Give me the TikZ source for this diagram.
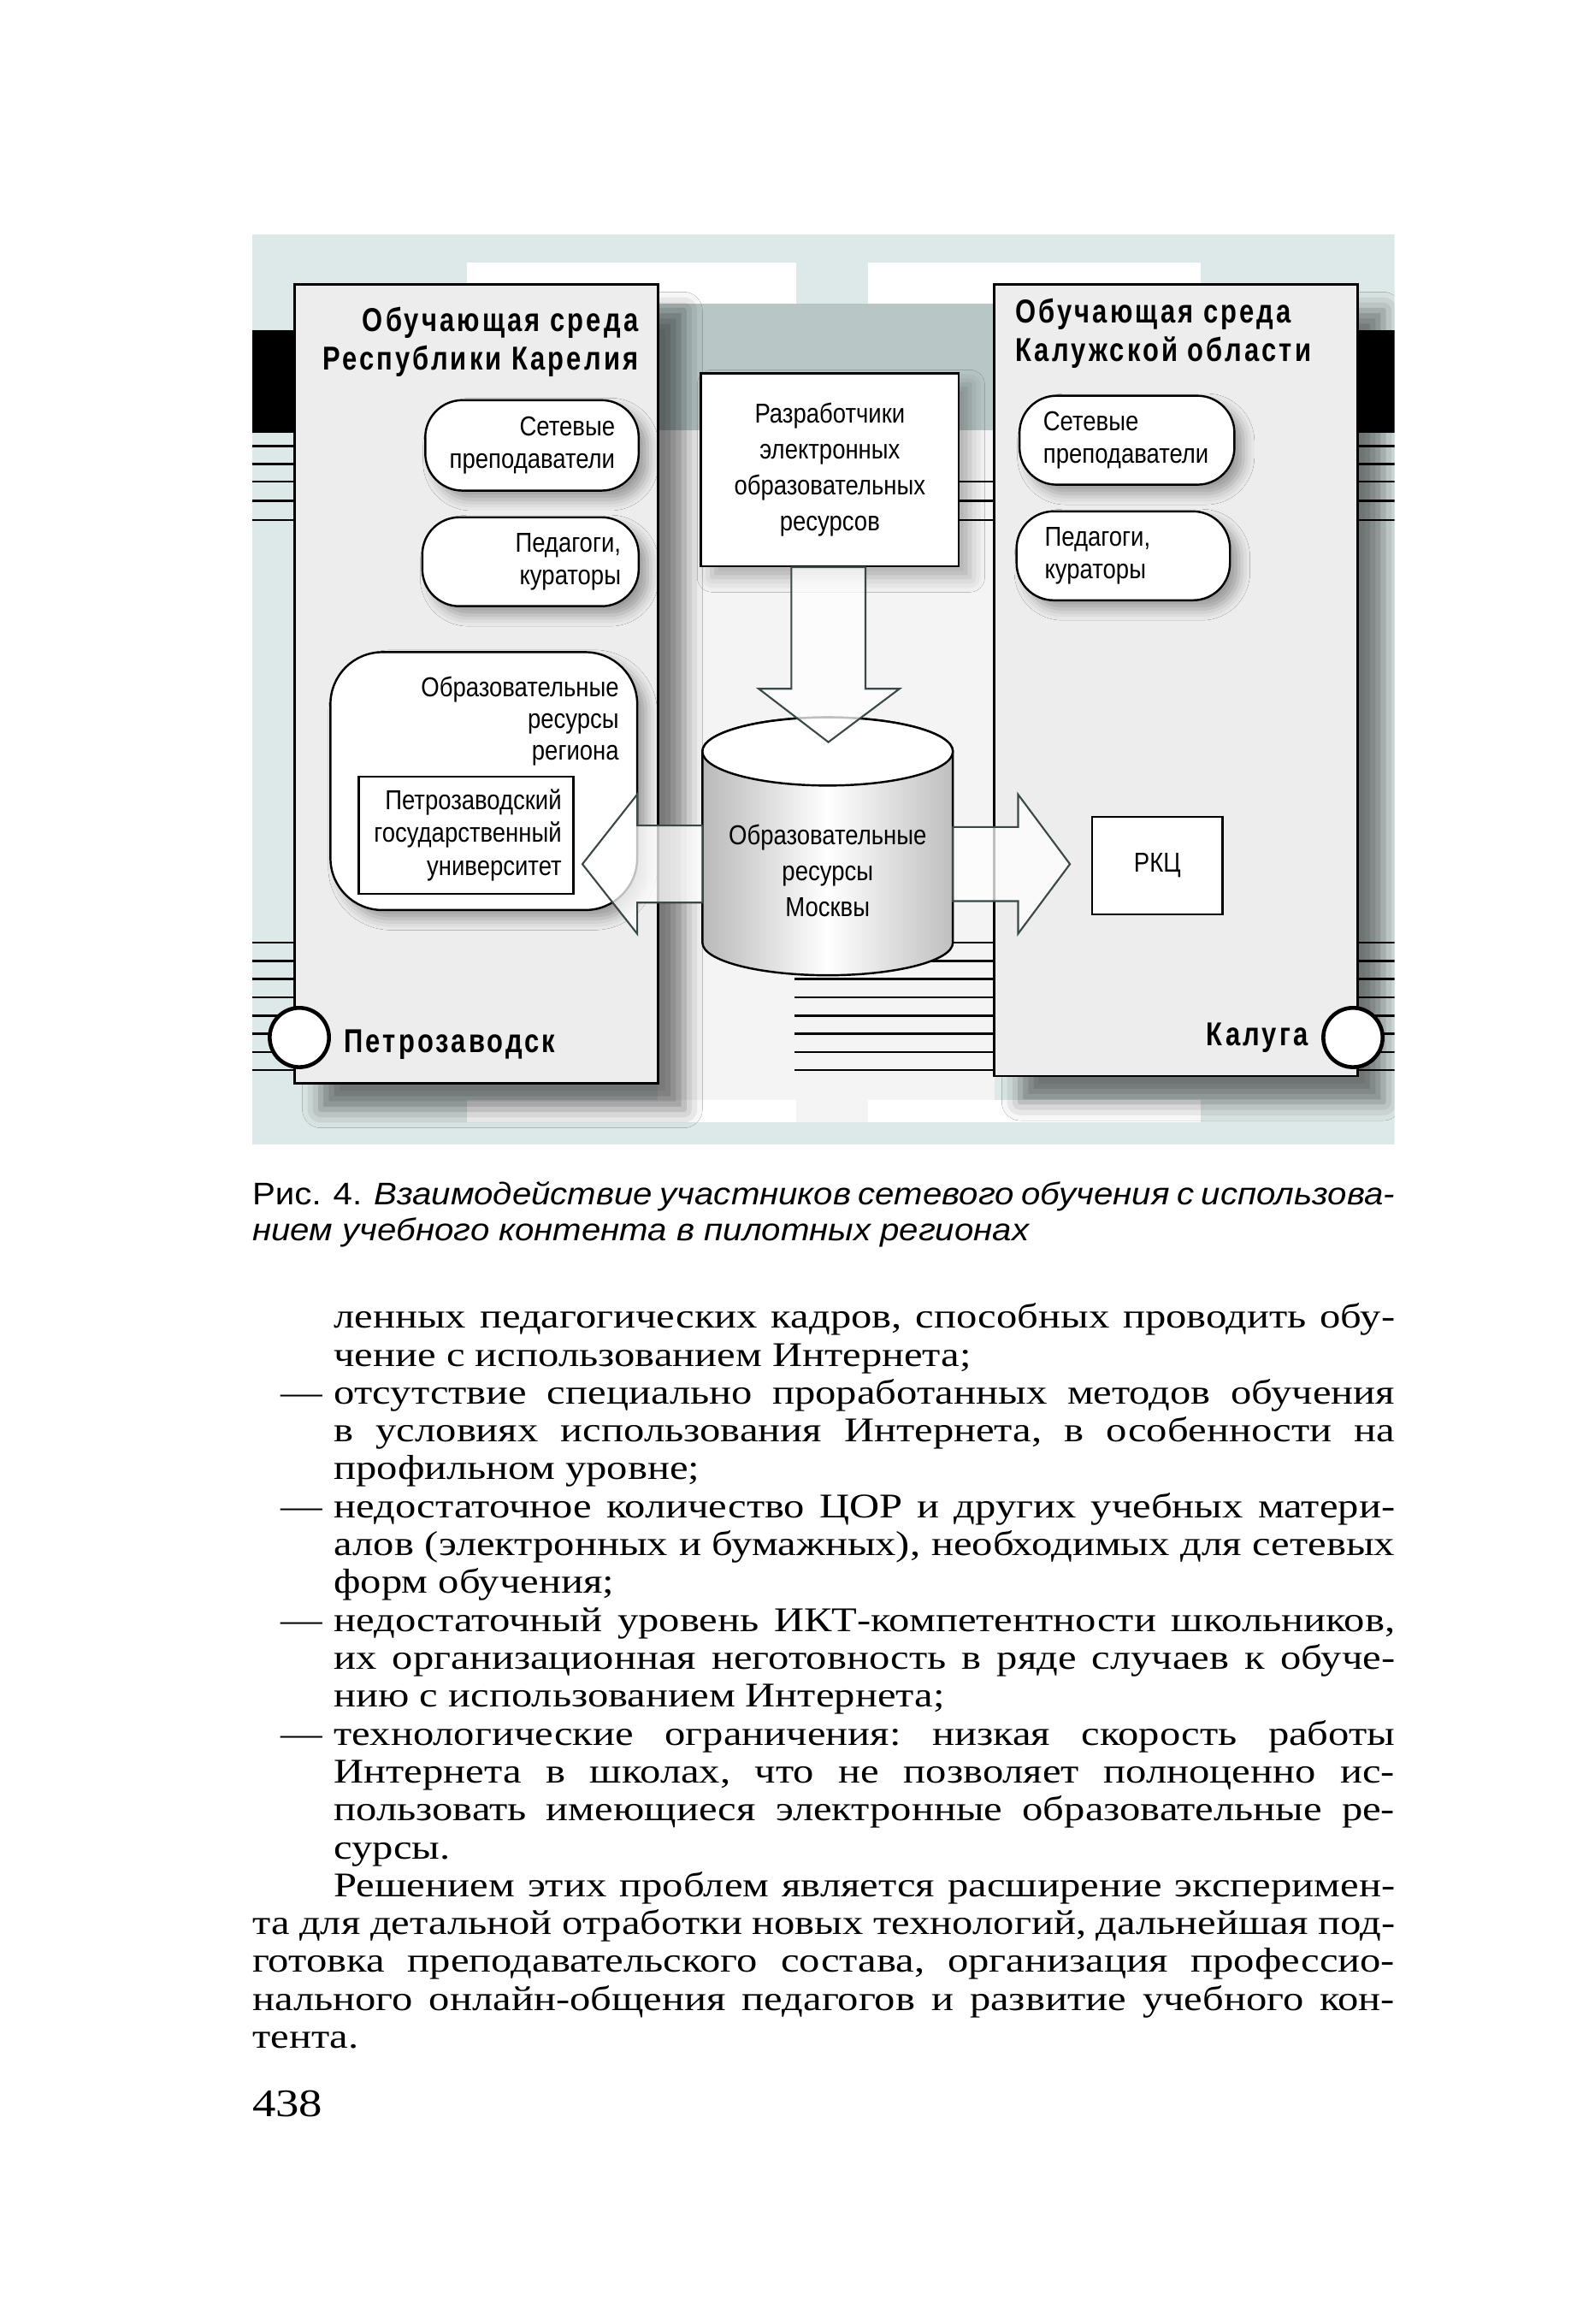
\documentclass[tikz,border=0pt]{standalone}
\usepackage{fontspec}
\usetikzlibrary{calc,shadows.blur}
\setmainfont{Liberation Serif}
\newfontfamily\bodyfont[FakeStretch=1.2]{Liberation Serif}
\newfontfamily\dgfont[FakeStretch=0.86]{Liberation Sans}
\newfontfamily\dgtitle[FakeStretch=0.8,LetterSpace=8]{Liberation Sans}
\newfontfamily\capfont[FakeStretch=1.1]{Liberation Sans}

\definecolor{framebg}{HTML}{DDE9E8}
\definecolor{envfill}{HTML}{EDEDED}
\definecolor{bandgrey}{HTML}{B8C6C6}
\definecolor{midfill}{HTML}{F4F4F4}
\definecolor{arrowline}{HTML}{3A4848}

\begin{document}
\begin{tikzpicture}[
  x=0.2mm, y=-0.2mm,
  envbox/.style={draw,fill=envfill,line width=.9pt,inner sep=0pt,
    blur shadow={shadow xshift=3.5mm,shadow yshift=-3.5mm,shadow blur radius=2.5mm,shadow opacity=50}},
  rbox/.style={draw,fill=white,line width=.8pt,rounded corners=5mm,inner sep=0pt,
    font=\dgfont\fontsize{10.5}{12.6}\selectfont,
    blur shadow={shadow xshift=1.2mm,shadow yshift=-1.2mm,shadow blur radius=1.5mm,shadow opacity=35}},
  pbox/.style={draw,fill=white,line width=.8pt,inner sep=0pt,
    font=\dgfont\fontsize{10.5}{12.8}\selectfont},
  ttl/.style={font=\dgtitle\bfseries\fontsize{12.7}{14.8}\selectfont,inner sep=0pt},
  barrow/.style={draw=arrowline,line width=.7pt,fill=white,fill opacity=.75,line join=miter},
  stripe/.style={line width=.8pt},
  town/.style={draw,circle,line width=1.5pt,fill=white,minimum size=8mm,inner sep=0pt}
]
  \useasboundingbox (0,0) rectangle (1064,1568);
  \fill[white] (0,0) rectangle (1064,1568);

  \begin{scope}
  \clip (170,158) rectangle (941,772);
  % figure background
  \fill[framebg] (170,158) rectangle (941,772);
  \fill[white] (315,177) rectangle (537,205);
  \fill[white] (586,177) rectangle (810,205);
  \fill[midfill] (444,205) rectangle (671,757);
  \fill[white] (315,742) rectangle (537,757);
  \fill[white] (586,742) rectangle (810,757);
  \fill[bandgrey] (444,205) rectangle (671,290);
  \fill[black] (170,223) rectangle (199,292);
  \fill[black] (916,223) rectangle (941,292);

  \foreach \y in {301,313,325,338,351} {
    \draw[stripe] (170,\y) -- (199,\y);
    \draw[stripe] (916,\y) -- (941,\y);
  }
  \foreach \y in {325,338,351}
    \draw[stripe] (647,\y) -- (671,\y);
  \foreach \k in {0,...,7} {
    \draw[stripe] (170,636+12.3*\k) -- (199,636+12.3*\k);
    \draw[stripe] (536,636+12.3*\k) -- (671,636+12.3*\k);
    \draw[stripe] (916,636+12.3*\k) -- (941,636+12.3*\k);
  }

  % the two regions
  \node[envbox,minimum width=49mm,minimum height=107.8mm] (kar) at (321.5,461.5) {};
  \node[envbox,minimum width=49mm,minimum height=106.8mm] (kal) at (793.5,459) {};

  \node[ttl,align=right,anchor=east] (kartitle) at (431,231) {Обучающая среда\\Республики Карелия};
  \node[ttl,align=left,anchor=west] (kaltitle) at (685,225) {Обучающая среда\\Калужской области};

  \node[rbox,minimum width=28.8mm,minimum height=12.2mm,text width=22.4mm,align=right] (lnet) at (359,300.5) {Сетевые\\преподаватели};
  \node[rbox,minimum width=29.2mm,minimum height=12mm,text width=24.4mm,align=right] (lped) at (358,379) {Педагоги,\\кураторы};
  \node[rbox,minimum width=29mm,minimum height=12mm,text width=22.6mm,align=left] (rnet) at (760.5,297) {Сетевые\\преподаватели};
  \node[rbox,minimum width=28.8mm,minimum height=12mm,text width=21.2mm,align=left] (rped) at (758,375) {Педагоги,\\кураторы};

  \node[rbox,rounded corners=7mm,minimum width=41.4mm,minimum height=34.8mm] (reg) at (326.5,527) {};
  \node[inner sep=0pt,align=right,anchor=north east,font=\dgfont\fontsize{10.5}{12.2}\selectfont] (regtxt) at (418,456) {Образовательные\\ресурсы\\региона};
  \node[pbox,minimum width=29mm,minimum height=15.8mm,text width=25.8mm,align=right] (univ) at (314.5,563.5) {Петрозаводский\\государственный\\университет};

  % developers and the Moscow store
  \node[pbox,minimum width=34.8mm,minimum height=26mm,align=center,
    font=\dgfont\fontsize{10.5}{13.8}\selectfont,
    blur shadow={shadow xshift=1.5mm,shadow yshift=-1.5mm,shadow blur radius=2mm,shadow opacity=30}] (dev) at (560,317)
    {Разработчики\\электронных\\образовательных\\ресурсов};

  \shadedraw[left color=gray!55,right color=gray!50,middle color=white,line width=.8pt]
    (474,507) -- (474,636) arc[start angle=180,end angle=0,x radius=84.5,y radius=22]
    -- (643,507) arc[start angle=0,end angle=-180,x radius=84.5,y radius=23] -- cycle;
  \filldraw[fill=white,line width=.8pt] (558.5,507) ellipse[x radius=84.5,y radius=23];
  \node[inner sep=0pt,align=center,font=\dgfont\fontsize{10.5}{13.9}\selectfont] (db) at (558.5,587.5)
    {Образовательные\\ресурсы\\Москвы};
  \coordinate (dbW) at (474,583);
  \coordinate (dbE) at (643,583);

  \node[pbox,minimum width=17.6mm,minimum height=13.2mm] (rkc) at (781,584) {РКЦ};

  \draw[barrow] (dev.south) ++(-26,0) -- ++(0,82) -- ++(-22,0) -- ++(47,36) -- ++(48,-36) -- ++(-23,0) -- ++(0,-82) -- cycle;
  \draw[barrow] (dbW) ++(0,-26) -- ++(-44,0) -- ++(0,-21) -- ++(-37,47) -- ++(37,47) -- ++(0,-21) -- ++(44,0) -- cycle;
  \draw[barrow] (dbE) ++(0,-25) -- ++(44,0) -- ++(0,-22) -- ++(35,47) -- ++(-35,47) -- ++(0,-22) -- ++(-44,0) -- cycle;

  % towns
  \node[town] (ptz) at (202,700) {};
  \node[town] (klg) at (913,700) {};
  \node[ttl,anchor=west] (ptzname) at (232,705) {Петрозаводск};
  \node[ttl,anchor=east] (klgname) at (883,700) {Калуга};
  \end{scope}

  % caption and page text
  \node[inner sep=0pt,anchor=north west,text width=154.2mm,align=justify,
    font=\capfont\fontsize{12}{13.7}\selectfont] (caption) at (170,797)
    {Рис. 4. \textit{Взаимодействие участников сетевого обучения с использова-}\linebreak
     \textit{нием учебного контента в пилотных регионах}};

  \node[inner sep=0pt,anchor=north west,text width=154.2mm,align=justify,
    font=\bodyfont\fontsize{13.3}{14.55}\selectfont] (body) at (170,879)
    {\frenchspacing \hyphenpenalty=10000 \exhyphenpenalty=10000 \tolerance=9999
     \parindent=0pt \leftskip=11mm
     ленных педагогических кадров, способных проводить обу-\linebreak
     чение с использованием Интернета;\par
     \leavevmode\llap{—\hspace{1.5mm}}отсутствие специально проработанных методов обучения\linebreak
     в условиях использования Интернета, в особенности на\linebreak
     профильном уровне;\par
     \leavevmode\llap{—\hspace{1.5mm}}недостаточное количество ЦОР и других учебных матери-\linebreak
     алов (электронных и бумажных), необходимых для сетевых\linebreak
     форм обучения;\par
     \leavevmode\llap{—\hspace{1.5mm}}недостаточный уровень ИКТ-компетентности школьников,\linebreak
     их организационная неготовность в ряде случаев к обуче-\linebreak
     нию с использованием Интернета;\par
     \leavevmode\llap{—\hspace{1.5mm}}технологические ограничения: низкая скорость работы\linebreak
     Интернета в школах, что не позволяет полноценно ис-\linebreak
     пользовать имеющиеся электронные образовательные ре-\linebreak
     сурсы.\par
     \leftskip=0pt \parindent=11mm
     Решением этих проблем является расширение эксперимен-\linebreak
     та для детальной отработки новых технологий, дальнейшая под-\linebreak
     готовка преподавательского состава, организация профессио-\linebreak
     нального онлайн-общения педагогов и развитие учебного кон-\linebreak
     тента.\par};

  \node[inner sep=0pt,anchor=north west,font=\bodyfont\fontsize{15}{16}\selectfont] (pgno) at (170,1410) {438};
\end{tikzpicture}
\end{document}
